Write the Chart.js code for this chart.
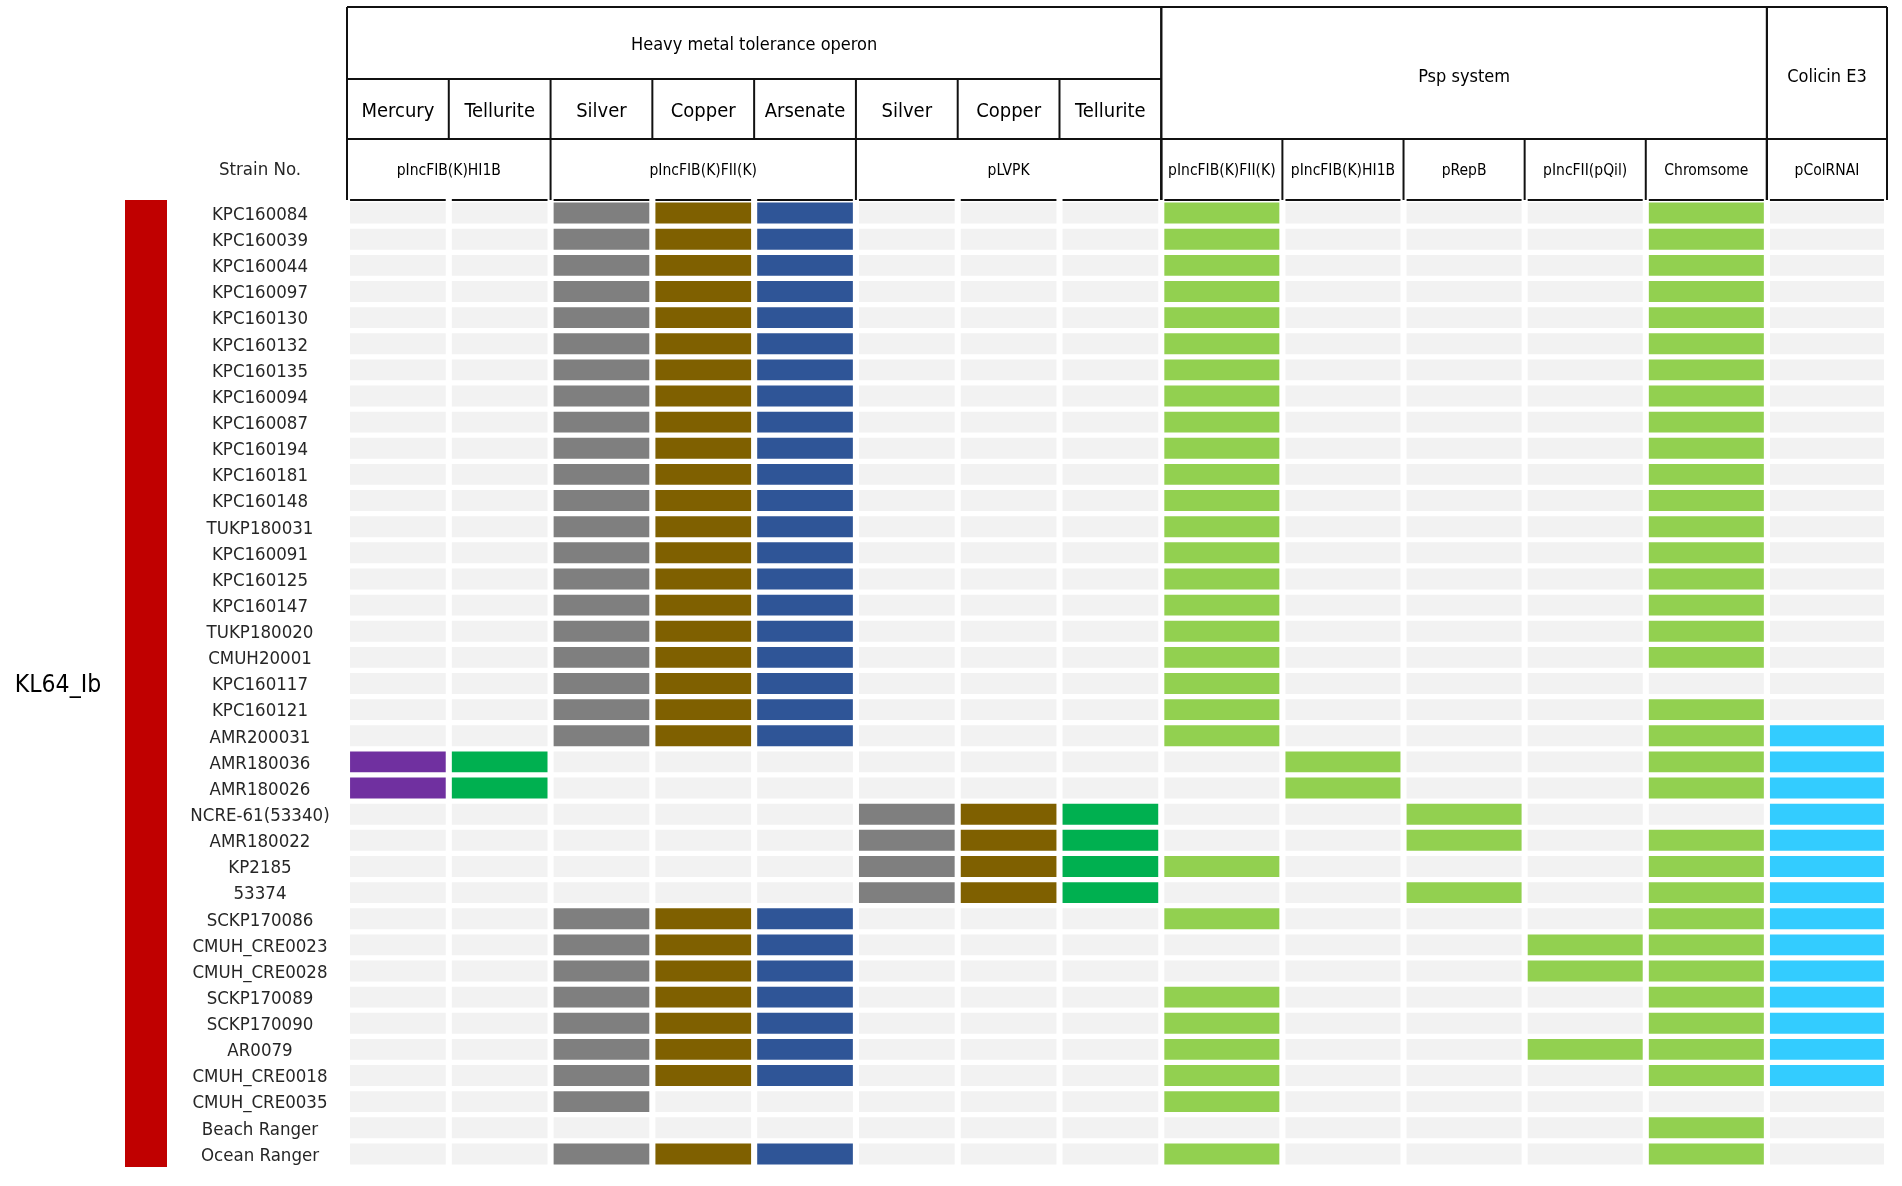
<!DOCTYPE html>
<html>
<head>
<meta charset="utf-8">
<script src="https://cdn.jsdelivr.net/npm/chart.js@4.4.1/dist/chart.umd.min.js"></script>
<style>
  html, body { margin: 0; padding: 0; background: #fff; }
  #wrap { width: 1902px; height: 1186px; }
</style>
</head>
<body>
<div id="wrap"><canvas id="geneChart"></canvas></div>
<script>
// strains, top to bottom
const strains = [
  'KPC160084', 'KPC160039', 'KPC160044', 'KPC160097', 'KPC160130', 'KPC160132', 'KPC160135',
  'KPC160094', 'KPC160087', 'KPC160194', 'KPC160181', 'KPC160148', 'TUKP180031', 'KPC160091',
  'KPC160125', 'KPC160147', 'TUKP180020', 'CMUH20001', 'KPC160117', 'KPC160121', 'AMR200031',
  'AMR180036', 'AMR180026', 'NCRE-61(53340)', 'AMR180022', 'KP2185', '53374', 'SCKP170086',
  'CMUH_CRE0023', 'CMUH_CRE0028', 'SCKP170089', 'SCKP170090', 'AR0079', 'CMUH_CRE0018',
  'CMUH_CRE0035', 'Beach Ranger', 'Ocean Ranger'
];
const clusterLabel = 'KL64_Ib';
const strainHeader = 'Strain No.';

// header texts
const systemLabels = ['Heavy metal tolerance operon', 'Psp system', 'Colicin E3'];
const systemSpans = [[0, 8], [8, 13], [13, 14]];
const metalLabels = ['Mercury', 'Tellurite', 'Silver', 'Copper', 'Arsenate', 'Silver', 'Copper', 'Tellurite'];
const plasmidLabels = ['pIncFIB(K)HI1B', 'pIncFIB(K)FII(K)', 'pLVPK', 'pIncFIB(K)FII(K)',
  'pIncFIB(K)HI1B', 'pRepB', 'pIncFII(pQil)', 'Chromsome', 'pColRNAI'];
const plasmidSpans = [[0, 2], [2, 5], [5, 8], [8, 9], [9, 10], [10, 11], [11, 12], [12, 13], [13, 14]];

// presence (1) / absence (0) per column, one value per strain
//                      0-9                           10-19                         20-29                         30-36
const mercuryHI1B   = [0,0,0,0,0,0,0,0,0,0, 0,0,0,0,0,0,0,0,0,0, 0,1,1,0,0,0,0,0,0,0, 0,0,0,0,0,0,0];
const telluriteHI1B = [0,0,0,0,0,0,0,0,0,0, 0,0,0,0,0,0,0,0,0,0, 0,1,1,0,0,0,0,0,0,0, 0,0,0,0,0,0,0];
const silverFII     = [1,1,1,1,1,1,1,1,1,1, 1,1,1,1,1,1,1,1,1,1, 1,0,0,0,0,0,0,1,1,1, 1,1,1,1,1,0,1];
const copperFII     = [1,1,1,1,1,1,1,1,1,1, 1,1,1,1,1,1,1,1,1,1, 1,0,0,0,0,0,0,1,1,1, 1,1,1,1,0,0,1];
const arsenateFII   = [1,1,1,1,1,1,1,1,1,1, 1,1,1,1,1,1,1,1,1,1, 1,0,0,0,0,0,0,1,1,1, 1,1,1,1,0,0,1];
const silverLVPK    = [0,0,0,0,0,0,0,0,0,0, 0,0,0,0,0,0,0,0,0,0, 0,0,0,1,1,1,1,0,0,0, 0,0,0,0,0,0,0];
const copperLVPK    = [0,0,0,0,0,0,0,0,0,0, 0,0,0,0,0,0,0,0,0,0, 0,0,0,1,1,1,1,0,0,0, 0,0,0,0,0,0,0];
const telluriteLVPK = [0,0,0,0,0,0,0,0,0,0, 0,0,0,0,0,0,0,0,0,0, 0,0,0,1,1,1,1,0,0,0, 0,0,0,0,0,0,0];
const pspFII        = [1,1,1,1,1,1,1,1,1,1, 1,1,1,1,1,1,1,1,1,1, 1,0,0,0,0,1,0,1,0,0, 1,1,1,1,1,0,1];
const pspHI1B       = [0,0,0,0,0,0,0,0,0,0, 0,0,0,0,0,0,0,0,0,0, 0,1,1,0,0,0,0,0,0,0, 0,0,0,0,0,0,0];
const pspRepB       = [0,0,0,0,0,0,0,0,0,0, 0,0,0,0,0,0,0,0,0,0, 0,0,0,1,1,0,1,0,0,0, 0,0,0,0,0,0,0];
const pspQil        = [0,0,0,0,0,0,0,0,0,0, 0,0,0,0,0,0,0,0,0,0, 0,0,0,0,0,0,0,0,1,1, 0,0,1,0,0,0,0];
const pspChromosome = [1,1,1,1,1,1,1,1,1,1, 1,1,1,1,1,1,1,1,0,1, 1,1,1,0,1,1,1,1,1,1, 1,1,1,1,0,1,1];
const colicinColRNAI= [0,0,0,0,0,0,0,0,0,0, 0,0,0,0,0,0,0,0,0,0, 1,1,1,1,1,1,1,1,1,1, 1,1,1,1,0,0,0];

const columns = [mercuryHI1B, telluriteHI1B, silverFII, copperFII, arsenateFII,
  silverLVPK, copperLVPK, telluriteLVPK, pspFII, pspHI1B, pspRepB, pspQil, pspChromosome, colicinColRNAI];

// look
const colColors = ['#7030a0', '#00b050', '#7f7f7f', '#7f6000', '#2f5597', '#7f7f7f', '#7f6000', '#00b050',
  '#92d050', '#92d050', '#92d050', '#92d050', '#92d050', '#33ccff'];
const emptyColor = '#f2f2f2';
const clusterColor = '#c00000';
const colWidths = [1, 1, 1, 1, 1, 1, 1, 1, 1.19, 1.19, 1.19, 1.19, 1.19, 1.18];
const cellPad = 0.03;
const FONT = "'Liberation Sans Narrow', 'DejaVu Sans Condensed', sans-serif";

const colEdges = [0];
colWidths.forEach(w => colEdges.push(colEdges[colEdges.length - 1] + w));
const totalUnits = colEdges[colEdges.length - 1];

const datasets = columns.map((flags, c) => ({
  label: 'col' + c,
  data: strains.map(() => [colEdges[c] + cellPad, colEdges[c + 1] - cellPad]),
  backgroundColor: flags.map(f => f ? colColors[c] : emptyColor),
  borderWidth: 0,
  borderSkipped: false
}));

// header frame, header texts, strain names and cluster bar
const tablePlugin = {
  id: 'tableFrame',
  afterDraw(chart) {
    const { ctx, chartArea, scales: { x, y } } = chart;
    const px = v => x.getPixelForValue(v);
    const yTop = chartArea.top - 193;
    const yRow1 = chartArea.top - 121;
    const yRow2 = chartArea.top - 61;
    const yRow3 = chartArea.top;

    ctx.save();
    ctx.strokeStyle = '#111';
    ctx.lineWidth = 2;
    const line = (x1, y1, x2, y2) => {
      ctx.beginPath(); ctx.moveTo(x1, y1); ctx.lineTo(x2, y2); ctx.stroke();
    };

    line(px(0), yTop, px(totalUnits), yTop);
    line(px(0), yRow1, px(8), yRow1);
    line(px(0), yRow2, px(totalUnits), yRow2);
    for (let c = 0; c < columns.length; c++) {
      line(px(colEdges[c] + cellPad), yRow3, px(colEdges[c + 1] - cellPad), yRow3);
    }
    systemSpans.forEach(s => {
      line(px(colEdges[s[0]]), yTop, px(colEdges[s[0]]), yRow3);
      line(px(colEdges[s[1]]), yTop, px(colEdges[s[1]]), yRow3);
    });
    for (let c = 1; c < metalLabels.length; c++) {
      line(px(colEdges[c]), yRow1, px(colEdges[c]), yRow2);
    }
    plasmidSpans.forEach(s => {
      line(px(colEdges[s[1]]), yRow2, px(colEdges[s[1]]), yRow3);
    });

    ctx.fillStyle = '#000';
    ctx.textAlign = 'center';
    ctx.textBaseline = 'middle';

    ctx.font = '18px ' + FONT;
    systemLabels.forEach((t, i) => {
      const s = systemSpans[i];
      const cx = (px(colEdges[s[0]]) + px(colEdges[s[1]])) / 2;
      const cy = i === 0 ? (yTop + yRow1) / 2 + 2 : (yTop + yRow2) / 2 + 4;
      ctx.fillText(t, cx, cy);
    });

    ctx.font = '20px ' + FONT;
    metalLabels.forEach((t, c) => {
      ctx.fillText(t, (px(colEdges[c]) + px(colEdges[c + 1])) / 2, (yRow1 + yRow2) / 2 + 3);
    });

    ctx.font = '15.5px ' + FONT;
    plasmidLabels.forEach((t, i) => {
      const s = plasmidSpans[i];
      ctx.fillText(t, (px(colEdges[s[0]]) + px(colEdges[s[1]])) / 2, (yRow2 + yRow3) / 2 + 1);
    });

    const labelX = 260;
    ctx.fillStyle = '#262626';
    ctx.font = '18.5px ' + FONT;
    ctx.fillText(strainHeader, labelX, (yRow2 + yRow3) / 2 + 1);
    strains.forEach((s, i) => {
      ctx.fillText(s, labelX, y.getPixelForValue(i) + 2);
    });

    // cluster bar spanning all strains
    const band = (chartArea.bottom - chartArea.top) / strains.length;
    const barTop = y.getPixelForValue(0) - band / 2;
    const barBottom = y.getPixelForValue(strains.length - 1) + band / 2;
    ctx.fillStyle = clusterColor;
    ctx.fillRect(125, barTop, 42, barBottom - barTop);
    ctx.fillStyle = '#000';
    ctx.font = '24.5px ' + FONT;
    ctx.fillText(clusterLabel, 58, (barTop + barBottom) / 2 + 2);
    ctx.restore();
  }
};

const chart = new Chart(document.getElementById('geneChart').getContext('2d'), {
  type: 'bar',
  data: { labels: strains, datasets: datasets },
  options: {
    indexAxis: 'y',
    responsive: true,
    maintainAspectRatio: false,
    animation: false,
    layout: { padding: { left: 347, right: 15, top: 200, bottom: 19 } },
    datasets: { bar: { grouped: false, categoryPercentage: 1, barPercentage: 0.8 } },
    scales: {
      x: { type: 'linear', min: 0, max: totalUnits, display: false },
      y: { type: 'category', display: false, offset: true }
    },
    plugins: { legend: { display: false }, tooltip: { enabled: false } }
  },
  plugins: [tablePlugin]
});
</script>
</body>
</html>
